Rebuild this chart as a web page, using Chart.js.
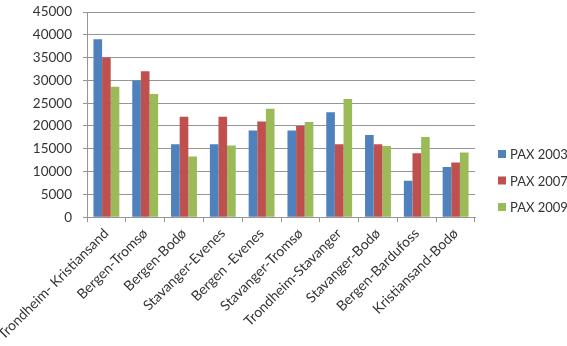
<!DOCTYPE html>
<html>
<head>
<meta charset="utf-8">
<script src="https://cdn.jsdelivr.net/npm/chart.js@4/dist/chart.umd.min.js"></script>
<style>
  html, body { margin: 0; padding: 0; background: #fff; }
  #wrap { width: 567px; height: 346px; }
</style>
</head>
<body>
<div id="wrap"><canvas id="chart" width="567" height="346"></canvas></div>
<script>
// Route names (x categories)
const routes = ['Trondheim- Kristiansand', 'Bergen-Tromsø', 'Bergen-Bodø', 'Stavanger-Evenes', 'Bergen -Evenes',
    'Stavanger-Tromsø', 'Trondheim-Stavanger', 'Stavanger-Bodø', 'Bergen-Bardufoss', 'Kristiansand-Bodø'];

// Passengers per year
const pax2003 = [39000, 30000, 16000, 16000, 19000, 19000, 23000, 18000, 8000, 11000];
const pax2007 = [35000, 32000, 22000, 22000, 21000, 20000, 16000, 16000, 14000, 12000];
const pax2009 = [28600, 27000, 13300, 15700, 23800, 20900, 25900, 15600, 17600, 14200];

const seriesNames = ['PAX 2003', 'PAX 2007', 'PAX 2009'];
const seriesColors = ['#4F81BD', '#C0504D', '#9BBB59'];
const yMax = 45000;
const yStep = 5000;

const fontFamily = 'Lato, "Open Sans", sans-serif';
const textColor = '#333333';
const lineColor = '#969696';
const plotLeft = 87; // first rotated label is allowed to run off the left edge, as in the original
const plotTop = 12;

// Legend drawn by hand so it can sit close to the plot and run off the right edge like the original
const sideLegend = {
    id: 'sideLegend',
    afterDraw(chart) {
        const c = chart.ctx;
        const area = chart.chartArea;
        const x = area.right + 23;
        const rowH = 26.5;
        const midY = 180.5;
        c.save();
        c.font = '13px ' + fontFamily;
        c.textBaseline = 'middle';
        chart.data.datasets.forEach((ds, i) => {
            const y = midY + (i - 1) * rowH;
            c.fillStyle = ds.backgroundColor;
            c.fillRect(x, y - 4, 8, 8);
            c.fillStyle = textColor;
            c.fillText(ds.label, x + 12, y + 1);
        });
        c.restore();
    }
};

const ctx = document.getElementById('chart').getContext('2d');
new Chart(ctx, {
    type: 'bar',
    data: {
        labels: routes,
        datasets: [pax2003, pax2007, pax2009].map((vals, i) => ({
            label: seriesNames[i],
            data: vals,
            backgroundColor: seriesColors[i],
            borderWidth: 0,
            barPercentage: 1,
            categoryPercentage: 0.667
        }))
    },
    plugins: [sideLegend],
    options: {
        responsive: false,
        animation: false,
        layout: { padding: { top: 0, right: 92, left: 0, bottom: 0 } },
        plugins: {
            legend: { display: false },
            tooltip: { enabled: false }
        },
        scales: {
            x: {
                afterFit(scale) { scale.paddingLeft = plotLeft; },
                grid: {
                    display: true,
                    drawOnChartArea: false,
                    drawTicks: true,
                    tickLength: 5,
                    color: lineColor
                },
                border: { color: lineColor },
                ticks: {
                    font: { family: fontFamily, size: 14 },
                    color: textColor,
                    padding: 3,
                    minRotation: 45,
                    maxRotation: 45,
                    autoSkip: false
                }
            },
            y: {
                afterFit(scale) { scale.paddingTop = plotTop; },
                min: 0,
                max: yMax,
                grid: { color: lineColor, tickLength: 4 },
                border: { color: lineColor },
                ticks: {
                    stepSize: yStep,
                    font: { family: fontFamily, size: 13.5 },
                    color: textColor,
                    padding: 11,
                    callback: v => String(v)
                }
            }
        }
    }
});
</script>
</body>
</html>
